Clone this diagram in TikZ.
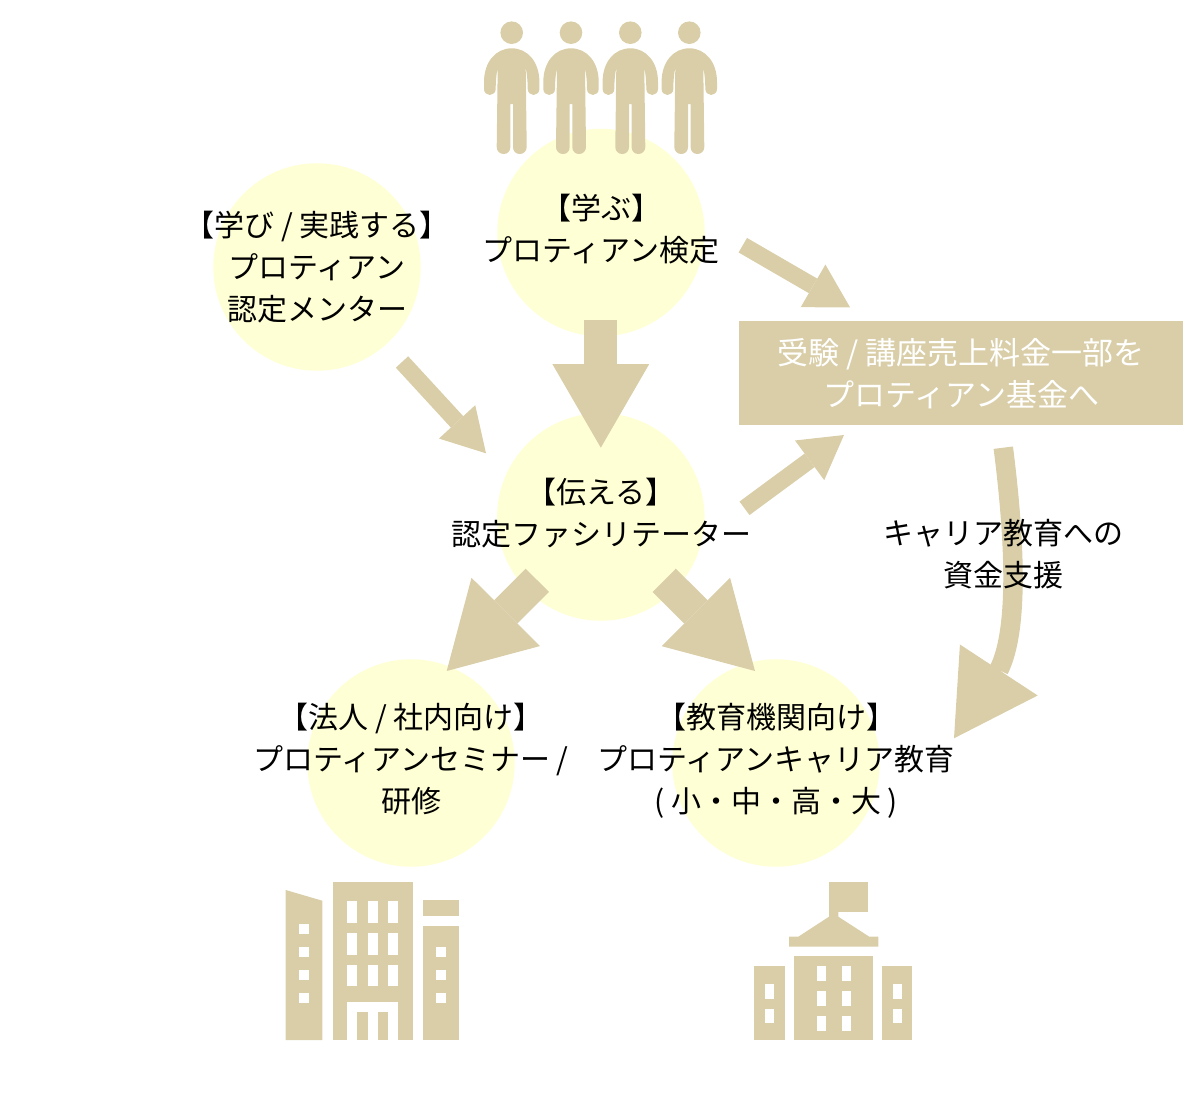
\documentclass[tikz,border=0pt]{standalone}
\usepackage{fontspec}
\setmainfont{Noto Sans CJK JP}
\usetikzlibrary{arrows.meta, positioning}
\definecolor{sand}{HTML}{D9CEA8}
\definecolor{cream}{HTML}{FFFFD6}
\tikzset{circ/.style={circle,fill=cream,minimum size=207.5pt,inner sep=0pt},
         label/.style={align=center,inner sep=0pt,font=\fontsize{30}{42}\selectfont},
         whitelabel/.style={align=center,inner sep=0pt,text=white,font=\fontsize{31}{42}\selectfont},
         fundbox/.style={fill=sand,minimum width=444.5pt,minimum height=104pt,inner sep=0pt},
         smallarrow/.style={color=sand,line width=16.8pt,-{Triangle[length=42.7pt,width=49.3pt,line width=0pt]}},
         bigarrow/.style={color=sand,line width=33pt,-{Triangle[length=83.5pt,width=96.7pt,line width=0pt]}},
         curvearrow/.style={color=sand,line width=19.5pt,-{Triangle[length=81.7pt,width=93pt,line width=0pt]}}}

\begin{document}
\begin{tikzpicture}[x=1pt,y=-1pt]
    \useasboundingbox (0,0) rectangle (1200,1116);

    \node[circ](manabu)at(601,232.5){};
    \node[circ](mentor)at(317,267){};
    \node[circ](tsutaeru)at(600.8,517){};
    \node[circ](houjin)at(411,763){};
    \node[circ](kyouiku)at(776,763){};
    \node[fundbox](fund)at(961.2,373){};

    \coordinate(a1s)at(600.8,320);
    \coordinate(a1e)at(600.8,447.7);
    \coordinate(a2s)at(402,362);
    \coordinate(a2e)at(486,453.3);
    \coordinate(a3s)at(742.8,245.2);
    \coordinate(a3e)at(850,307.3);
    \coordinate(a4s)at(744.5,508.3);
    \coordinate(a4e)at(844,435);
    \coordinate(a5s)at(537.3,580.3);
    \coordinate(a5e)at(446.7,671);
    \coordinate(a6s)at(664.2,580.3);
    \coordinate(a6e)at(755,671);
    \coordinate(a7s)at(1003.3,447.7);
    \coordinate(a7m)at(998.8,670);
    \coordinate(a7e)at(954,738.3);

    \draw[bigarrow](a1s)--(a1e);
    \draw[smallarrow](a2s)--(a2e);
    \draw[smallarrow](a3s)--(a3e);
    \draw[smallarrow](a4s)--(a4e);
    \draw[bigarrow](a5s)--(a5e);
    \draw[bigarrow](a6s)--(a6e);
    \draw[curvearrow](a7s).. controls (1015,540) and (1019,630) ..(a7m)--(a7e);

    \foreach \px in {511.7,571,630.3,689.3}{
        \begin{scope}[shift={(\px,0)}]
            \fill[sand](0,32.7)circle(11.3pt);
            \fill[sand](0,48.3).. controls (16,48.3) and (27.7,62) ..(27.7,82)--(27.7,89)
                .. controls (27.7,92.5) and (25,95) ..(21.9,95)
                .. controls (18.8,95) and (16,92.5) ..(16,89)
                .. controls (16,80) and (15,72) ..(14,68)--(15,147)
                .. controls (15,151) and (12,154) ..(8,154)
                .. controls (4,154) and (1.3,151) ..(1.3,147)--(1.3,104)--(-1.3,104)--(-1.3,147)
                .. controls (-1.3,151) and (-4,154) ..(-8,154)
                .. controls (-12,154) and (-15,151) ..(-15,147)--(-14,68)
                .. controls (-15,72) and (-16,80) ..(-16,89)
                .. controls (-16,92.5) and (-18.8,95) ..(-21.9,95)
                .. controls (-25,95) and (-27.7,92.5) ..(-27.7,89)--(-27.7,82)
                .. controls (-27.7,62) and (-16,48.3) ..(0,48.3)--cycle;
        \end{scope}
    }

    \fill[sand](285.7,890)--(322.3,900.7)--(322.3,1040)--(285.7,1040)--cycle;
    \fill[sand](333.3,882.3)rectangle(413.3,1040);
    \fill[sand](423.3,899.7)rectangle(459.3,916.3);
    \fill[sand](423.3,926)rectangle(459.3,1040);
    \foreach \wy in {924.3,947.3,970.3,993.3}
        \fill[white](299,\wy)rectangle++(10,10);
    \foreach \wy in {947.3,970.3,993.3}
        \fill[white](436.3,\wy)rectangle++(10,10);
    \foreach \wx in {347.3,367.7,388}
        \foreach \wy in {901.3,933.3,965}
            \fill[white](\wx,\wy)rectangle++(10,21.3);
    \fill[white](347.3,1001.7)rectangle(398,1040);
    \fill[sand](357.3,1011.7)rectangle(367.7,1040);
    \fill[sand](377.7,1011.7)rectangle(388,1040);

    \fill[sand](829,882.3)rectangle(868,911.7);
    \fill[sand](829,911)--(838.3,911)--(838.3,916.7)--(869.3,936.7)--(878.3,936.7)--(878.3,946.7)
        --(789,946.7)--(789,936.7)--(798.3,936.7)--(829,916.7)--cycle;
    \fill[sand](794,956.3)rectangle(873,1040.3);
    \fill[sand](754.3,966.3)rectangle(785,1040.3);
    \fill[sand](882,966.3)rectangle(912.3,1040.3);
    \foreach \wx in {816.7,841.7}
        \foreach \wy in {966.3,991,1016}
            \fill[white](\wx,\wy)rectangle++(9,14.7);
    \foreach \wx in {765.3,892.7}
        \foreach \wy in {984,1008.7}
            \fill[white](\wx,\wy)rectangle++(9,14.5);

    \node[label](t1)at(601,229){【学ぶ】\\プロティアン検定};
    \node[label](t2)at(317,267){【学び / 実践する】\\プロティアン\\認定メンター};
    \node[label](t3)at(601,513){【伝える】\\認定ファシリテーター};
    \node[label](t4)at(411,759.5){【法人 / 社内向け】\\プロティアンセミナー /\\研修};
    \node[label](t5)at(776,760.5){【教育機関向け】\\プロティアンキャリア教育\\( 小・中・高・大 )};
    \node[whitelabel](t6)at(961.2,374){受験 / 講座売上料金一部を\\プロティアン基金へ};
    \node[label](t7)at(1003,554){キャリア教育への\\資金支援};
\end{tikzpicture}
\end{document}
